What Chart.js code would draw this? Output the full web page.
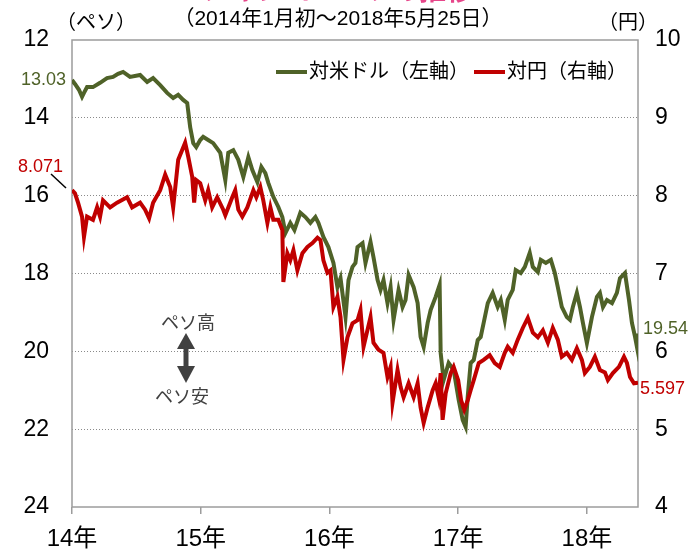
<!DOCTYPE html>
<html>
<head>
<meta charset="utf-8">
<script src="https://cdn.jsdelivr.net/npm/chart.js@4/dist/chart.umd.min.js"></script>
<style>
  html, body { margin: 0; padding: 0; background: #fff; }
  #wrap { width: 692px; height: 552px; position: relative; }
</style>
</head>
<body>
<div id="wrap"><canvas id="pesoChart" width="692" height="552"></canvas></div>
<script>
// x positions are decimal years (2014.0 = start of Jan 2014)
var usdT = [2014.000, 2014.023, 2014.054, 2014.078, 2014.093, 2014.117, 2014.163, 2014.218, 2014.272, 2014.319,
    2014.358, 2014.397, 2014.451, 2014.529, 2014.584, 2014.630, 2014.685, 2014.739, 2014.786, 2014.825,
    2014.864, 2014.895, 2014.918, 2014.942, 2014.965, 2014.996, 2015.019, 2015.058, 2015.097, 2015.152,
    2015.191, 2015.214, 2015.253, 2015.292, 2015.331, 2015.370, 2015.401, 2015.440, 2015.471, 2015.502,
    2015.525, 2015.564, 2015.603, 2015.634, 2015.658, 2015.696, 2015.728, 2015.774, 2015.813, 2015.852,
    2015.891, 2015.914, 2015.953, 2015.992, 2016.031, 2016.062, 2016.086, 2016.125, 2016.148, 2016.179,
    2016.202, 2016.218, 2016.257, 2016.280, 2016.319, 2016.342, 2016.374, 2016.397, 2016.420, 2016.451,
    2016.475, 2016.498, 2016.537, 2016.568, 2016.591, 2016.615, 2016.654, 2016.685, 2016.708, 2016.732,
    2016.763, 2016.786, 2016.825, 2016.856, 2016.864, 2016.887, 2016.926, 2016.965, 2017.004, 2017.035,
    2017.058, 2017.074, 2017.097, 2017.121, 2017.152, 2017.175, 2017.198, 2017.230, 2017.268, 2017.307,
    2017.331, 2017.362, 2017.385, 2017.424, 2017.447, 2017.486, 2017.518, 2017.556, 2017.580, 2017.619,
    2017.642, 2017.681, 2017.720, 2017.751, 2017.774, 2017.805, 2017.844, 2017.868, 2017.891, 2017.922,
    2017.946, 2017.969, 2018.000, 2018.039, 2018.078, 2018.101, 2018.125, 2018.156, 2018.195, 2018.233,
    2018.257, 2018.296, 2018.327, 2018.350, 2018.374, 2018.389, 2018.397];
var usdRate = [13.03, 13.13, 13.28, 13.46, 13.36, 13.21, 13.21, 13.10, 12.98, 12.95,
    12.87, 12.82, 12.95, 12.90, 13.08, 12.98, 13.16, 13.36, 13.49, 13.41,
    13.54, 13.62, 14.24, 14.65, 14.75, 14.57, 14.49, 14.57, 14.65, 14.90,
    15.60, 14.90, 14.83, 15.08, 15.52, 15.01, 15.34, 15.65, 15.26, 15.42,
    15.67, 16.03, 16.29, 16.55, 16.96, 16.70, 16.88, 16.44, 16.55, 16.70,
    16.55, 16.70, 17.06, 17.32, 17.73, 18.35, 18.12, 19.12, 18.17, 17.83,
    17.73, 17.32, 17.22, 17.73, 17.19, 17.58, 18.17, 18.42, 18.17, 18.76,
    18.35, 19.19, 18.42, 18.86, 18.68, 18.04, 18.35, 18.76, 19.63, 19.89,
    19.27, 18.94, 18.60, 18.29, 20.04, 20.74, 20.30, 20.48, 21.25, 21.76,
    21.94, 21.17, 20.30, 20.22, 19.71, 19.63, 19.27, 18.76, 18.50, 18.86,
    18.68, 19.19, 18.68, 18.42, 17.91, 17.99, 17.83, 17.47, 17.83, 17.96,
    17.65, 17.73, 17.65, 17.99, 18.35, 18.86, 19.12, 19.19, 18.86, 18.50,
    18.86, 19.27, 19.79, 19.12, 18.60, 18.50, 18.86, 18.68, 18.76, 18.50,
    18.12, 17.99, 18.68, 19.27, 19.63, 19.89, 19.54];

var jpyT = [2014.000, 2014.023, 2014.047, 2014.078, 2014.093, 2014.117, 2014.163, 2014.195, 2014.218, 2014.241,
    2014.296, 2014.350, 2014.428, 2014.467, 2014.529, 2014.568, 2014.599, 2014.630, 2014.685, 2014.724,
    2014.763, 2014.786, 2014.825, 2014.879, 2014.903, 2014.934, 2014.949, 2014.965, 2014.996, 2015.035,
    2015.058, 2015.089, 2015.128, 2015.175, 2015.191, 2015.245, 2015.268, 2015.292, 2015.323, 2015.362,
    2015.409, 2015.432, 2015.463, 2015.486, 2015.518, 2015.541, 2015.564, 2015.603, 2015.634, 2015.642,
    2015.673, 2015.696, 2015.720, 2015.751, 2015.790, 2015.829, 2015.868, 2015.907, 2015.930, 2015.953,
    2015.984, 2016.008, 2016.031, 2016.062, 2016.086, 2016.109, 2016.140, 2016.179, 2016.218, 2016.241,
    2016.265, 2016.319, 2016.342, 2016.381, 2016.420, 2016.451, 2016.475, 2016.490, 2016.529, 2016.553,
    2016.576, 2016.615, 2016.654, 2016.685, 2016.708, 2016.732, 2016.763, 2016.802, 2016.825, 2016.848,
    2016.864, 2016.879, 2016.903, 2016.942, 2016.965, 2017.000, 2017.023, 2017.047, 2017.074, 2017.097,
    2017.121, 2017.160, 2017.198, 2017.245, 2017.284, 2017.323, 2017.362, 2017.385, 2017.424, 2017.463,
    2017.502, 2017.541, 2017.580, 2017.619, 2017.658, 2017.697, 2017.735, 2017.774, 2017.805, 2017.844,
    2017.883, 2017.922, 2017.961, 2017.984, 2018.023, 2018.062, 2018.101, 2018.140, 2018.163, 2018.202,
    2018.249, 2018.288, 2018.311, 2018.335, 2018.366, 2018.397];
var jpyRate = [8.071, 8.03, 7.91, 7.73, 7.47, 7.73, 7.69, 7.85, 7.73, 7.94,
    7.85, 7.91, 7.98, 7.85, 7.91, 7.82, 7.71, 7.91, 8.07, 8.27,
    8.11, 7.85, 8.46, 8.68, 8.50, 8.24, 7.91, 8.20, 8.16, 7.94,
    8.07, 7.85, 7.98, 7.82, 7.75, 7.98, 8.07, 7.82, 7.73, 7.85,
    8.07, 7.98, 8.11, 7.94, 7.65, 7.85, 7.69, 7.69, 7.56, 6.89,
    7.26, 7.17, 7.30, 7.04, 7.26, 7.34, 7.39, 7.46, 7.43, 7.17,
    7.01, 7.04, 6.57, 6.70, 6.44, 5.89, 6.18, 6.36, 6.40, 6.53,
    6.06, 6.44, 6.11, 6.02, 5.98, 5.67, 5.80, 5.34, 5.76, 5.54,
    5.41, 5.59, 5.41, 5.59, 5.28, 5.08, 5.28, 5.50, 5.59, 5.41,
    5.72, 5.12, 5.46, 5.72, 5.80, 5.63, 5.37, 5.25, 5.37, 5.50,
    5.63, 5.85, 5.89, 5.95, 5.85, 5.80, 5.98, 6.06, 5.98, 6.15,
    6.30, 6.43, 6.24, 6.18, 6.27, 6.11, 6.30, 6.15, 5.93, 5.98,
    5.89, 6.04, 5.89, 5.72, 5.80, 5.93, 5.76, 5.73, 5.63, 5.72,
    5.80, 5.93, 5.85, 5.67, 5.59, 5.597];

var yearTicks = [2014, 2015, 2016, 2017, 2018];
var leftTicks = [12, 14, 16, 18, 20, 22, 24];
var rightTicks = [4, 5, 6, 7, 8, 9, 10];
var seriesNames = ['対米ドル（左軸）', '対円（右軸）'];
var seriesColors = ['#4f6228', '#c00000'];

var FONT = '"Liberation Sans", Arial, "Noto Sans CJK JP", sans-serif';

function toPoints(xs, ys) {
    var out = [];
    for (var i = 0; i < xs.length; i++) out.push({x: xs[i], y: ys[i]});
    return out;
}

var extras = {
    id: 'extras',
    beforeDatasetsDraw: function(chart) {
        var c = chart.ctx, a = chart.chartArea;
        c.save();
        c.strokeStyle = '#9c9c9c';
        c.lineWidth = 1.5;
        c.strokeRect(a.left, a.top, a.right - a.left, a.bottom - a.top);
        c.restore();
    },
    afterDraw: function(chart) {
        var c = chart.ctx;
        var yl = chart.scales.yL, yr = chart.scales.yR;
        c.save();
        // title, mostly cut off by the top edge
        c.fillStyle = '#e6468a';
        c.font = 'bold 27px ' + FONT;
        c.textAlign = 'center';
        c.textBaseline = 'bottom';
        c.fillText('メキシコ・ペソの推移', 338, 6);

        c.fillStyle = '#000';
        c.font = '21px ' + FONT;
        c.textBaseline = 'middle';
        c.fillText('（2014年1月初～2018年5月25日）', 338, 19);
        c.font = '20px ' + FONT;
        c.textAlign = 'left';
        c.fillText('（ペソ）', 56, 23);
        c.fillText('（円）', 598, 23);

        // legend
        var lx = [276, 474];
        for (var i = 0; i < 2; i++) {
            c.strokeStyle = seriesColors[i];
            c.lineWidth = 4;
            c.beginPath();
            c.moveTo(lx[i], 72);
            c.lineTo(lx[i] + 31, 72);
            c.stroke();
            c.fillStyle = '#000';
            c.fillText(seriesNames[i], lx[i] + 33, 72);
        }

        // value labels for first and last points
        c.font = '18px ' + FONT;
        c.textAlign = 'right';
        c.fillStyle = seriesColors[0];
        c.fillText(usdRate[0].toFixed(2), 66, yl.getPixelForValue(usdRate[0]));
        c.fillStyle = seriesColors[1];
        c.fillText(jpyRate[0].toFixed(3), 63, 167);
        c.strokeStyle = '#000';
        c.lineWidth = 1.5;
        c.beginPath();
        c.moveTo(51, 174);
        c.lineTo(66, 188);
        c.stroke();
        c.textAlign = 'left';
        c.fillStyle = seriesColors[0];
        c.fillText(usdRate[usdRate.length - 1].toFixed(2), 643, 329);
        c.fillStyle = seriesColors[1];
        c.fillText(jpyRate[jpyRate.length - 1].toFixed(3), 640, yr.getPixelForValue(jpyRate[jpyRate.length - 1]) + 6);

        // peso high / low arrow
        var ax = 186;
        c.fillStyle = '#404040';
        c.strokeStyle = '#404040';
        c.font = '18px ' + FONT;
        c.textAlign = 'center';
        c.fillText('ペソ高', ax + 2, 324);
        c.fillText('ペソ安', ax - 4, 398);
        c.lineWidth = 5;
        c.beginPath();
        c.moveTo(ax, 343);
        c.lineTo(ax, 372);
        c.stroke();
        c.beginPath();
        c.moveTo(ax, 333); c.lineTo(ax - 9, 349); c.lineTo(ax + 9, 349); c.closePath();
        c.fill();
        c.beginPath();
        c.moveTo(ax, 383); c.lineTo(ax - 9, 366); c.lineTo(ax + 9, 366); c.closePath();
        c.fill();
        c.restore();
    }
};

window.onload = function() {
    var ctx = document.getElementById('pesoChart');
    new Chart(ctx, {
        type: 'line',
        data: {
            datasets: [{
                label: seriesNames[0],
                data: toPoints(usdT, usdRate),
                yAxisID: 'yL',
                borderColor: seriesColors[0],
                borderWidth: 4,
                pointRadius: 0,
                tension: 0,
                order: 1
            }, {
                label: seriesNames[1],
                data: toPoints(jpyT, jpyRate),
                yAxisID: 'yR',
                borderColor: seriesColors[1],
                borderWidth: 4,
                pointRadius: 0,
                tension: 0,
                order: 0
            }]
        },
        options: {
            responsive: false,
            animation: false,
            parsing: false,
            layout: {padding: {top: 40, left: 0, right: 0, bottom: 0}},
            plugins: {legend: {display: false}, tooltip: {enabled: false}},
            scales: {
                x: {
                    type: 'linear',
                    min: 2014,
                    max: 2018.397,
                    afterBuildTicks: function(s) {
                        s.ticks = yearTicks.map(function(v) { return {value: v}; });
                    },
                    afterFit: function(s) { s.height = 45; },
                    grid: {drawOnChartArea: false, drawTicks: true, tickLength: 7, color: '#9c9c9c', lineWidth: 1.5},
                    border: {display: false},
                    ticks: {
                        padding: 11,
                        color: '#000',
                        maxRotation: 0,
                        font: {family: FONT, size: 24},
                        callback: function(v) { return String(v - 2000) + '年'; }
                    }
                },
                yL: {
                    position: 'left',
                    reverse: true,
                    min: 12,
                    max: 24,
                    afterBuildTicks: function(s) {
                        s.ticks = leftTicks.map(function(v) { return {value: v}; });
                    },
                    afterFit: function(s) { s.width = 72; },
                    grid: {
                        drawTicks: false,
                        lineWidth: 1,
                        color: function(c) {
                            var v = c.tick ? c.tick.value : 0;
                            return (v === 12 || v === 24) ? 'rgba(0,0,0,0)' : '#8a8a8a';
                        }
                    },
                    border: {display: false, dash: [1, 2]},
                    ticks: {padding: 23, color: '#000', font: {family: FONT, size: 23}}
                },
                yR: {
                    position: 'right',
                    min: 4,
                    max: 10,
                    afterBuildTicks: function(s) {
                        s.ticks = rightTicks.map(function(v) { return {value: v}; });
                    },
                    afterFit: function(s) { s.width = 54; },
                    grid: {display: false, drawOnChartArea: false, drawTicks: false},
                    border: {display: false},
                    ticks: {padding: 17, color: '#000', font: {family: FONT, size: 23}}
                }
            }
        },
        plugins: [extras]
    });
};
</script>
</body>
</html>
